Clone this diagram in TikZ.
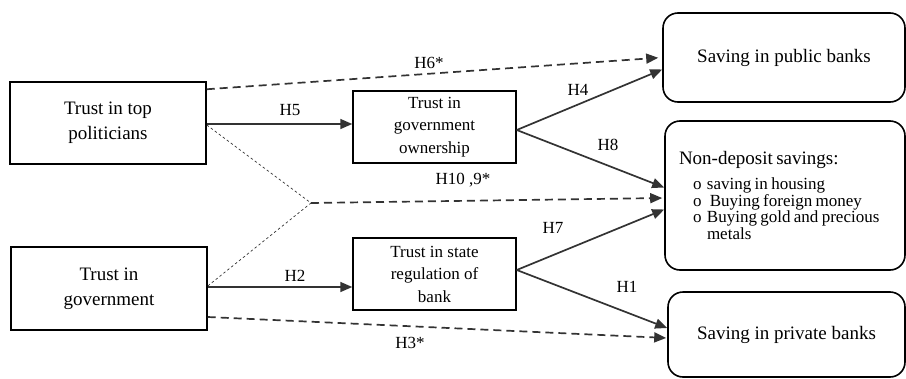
\documentclass[tikz,border=0pt]{standalone}
\usepackage{fontspec}
\setmainfont{Liberation Serif}
\usetikzlibrary{arrows.meta,positioning,calc}

\begin{document}
\begin{tikzpicture}[
    x=1pt, y=-1pt,
    box/.style={draw, line width=1.5pt, align=center, inner sep=2pt},
    outbox/.style={draw, line width=1.6pt, rounded corners=15pt, inner sep=2pt},
    bigtext/.style={font=\fontsize{19}{25}\selectfont},
    midtext/.style={font=\fontsize{17}{22.5}\selectfont},
    hlabel/.style={font=\fontsize{17}{20}\selectfont, inner sep=0pt},
    link/.style={line width=1.7pt, draw=black!80,
      -{Triangle[length=12pt,width=10pt]}},
    dlink/.style={link, dash pattern=on 8pt off 5pt},
    thin dots/.style={line width=0.7pt, draw=black!80, dash pattern=on 2.5pt off 2.5pt},
  ]
  \useasboundingbox (0,0) rectangle (906,378);

  % left column
  \node[box, bigtext, minimum width=196pt, minimum height=82pt] (top) at (108,123)
    {Trust in top\\politicians};
  \node[box, bigtext, minimum width=196pt, minimum height=83pt] (gov) at (109,288.5)
    {Trust in\\government};

  % middle column
  \node[box, midtext, minimum width=163pt, minimum height=72pt] (own) at (434.5,127)
    {Trust in\\government\\ownership};
  \node[box, midtext, minimum width=163pt, minimum height=72pt] (reg) at (434.5,274)
    {Trust in state\\regulation of\\bank};

  % right column
  \node[outbox, bigtext, minimum width=242pt, minimum height=89pt] (pub) at (784,57.5)
    {Saving in public banks};
  \node[outbox, minimum width=240pt, minimum height=149pt, text width=212pt,
        inner xsep=14pt, align=left] (nondep) at (785,195.5)
    {{\fontsize{19}{22}\selectfont Non-deposit savings:\par}
     \vspace{8pt}
     {\fontsize{17}{16.7}\selectfont
      \hspace*{14pt}\makebox[14pt][l]{o}saving in housing\\
      \hspace*{14pt}\makebox[14pt][l]{o}\,Buying foreign money\\
      \hspace*{14pt}\makebox[14pt][l]{o}Buying gold and precious\\
      \hspace*{28pt}metals\par}};
  \node[outbox, bigtext, minimum width=237pt, minimum height=85pt] (priv) at (786.5,334.5)
    {Saving in private banks};

  \coordinate (jn) at (311,203);

  % connectors
  \draw[dlink, shorten >=4pt] ([yshift=-8pt]top.north east) -- (pub.west);
  \draw[link] ([yshift=-1pt]top.east) -- ([yshift=-1pt]top.east -| own.west);
  \draw[thin dots] ([yshift=-2pt]top.east) -- (jn) -- ([yshift=2.5pt]gov.east);
  \draw[dlink, shorten >=2pt] (jn) -- ([yshift=-2.5pt]nondep.west);
  \draw[link] ([yshift=-3pt]own.east) -- ([yshift=-12pt]pub.west);
  \draw[link] ([yshift=-3pt]own.east) -- ([yshift=8pt]nondep.west);
  \draw[link] ([yshift=1.5pt]gov.east) -- ([yshift=1.5pt]gov.east -| reg.west);
  \draw[link] ([yshift=4pt]reg.east) -- ([yshift=-14pt]nondep.west);
  \draw[link] ([yshift=4pt]reg.east) -- ([yshift=6.5pt]priv.west);
  \draw[dlink, shorten >=1pt] ([yshift=-28.5pt]gov.east) -- ([yshift=-3.5pt]priv.west);

  % hypothesis labels
  \node[hlabel] (lH6) at (429,63) {H6*};
  \node[hlabel] (lH5) at (290,110) {H5};
  \node[hlabel] (lH10) at (463,180) {H10 ,9*};
  \node[hlabel] (lH4) at (578,90) {H4};
  \node[hlabel] (lH8) at (608,145) {H8};
  \node[hlabel] (lH2) at (295,276) {H2};
  \node[hlabel] (lH7) at (553,228) {H7};
  \node[hlabel] (lH1) at (627,287) {H1};
  \node[hlabel] (lH3) at (410,343) {H3*};
\end{tikzpicture}
\end{document}
